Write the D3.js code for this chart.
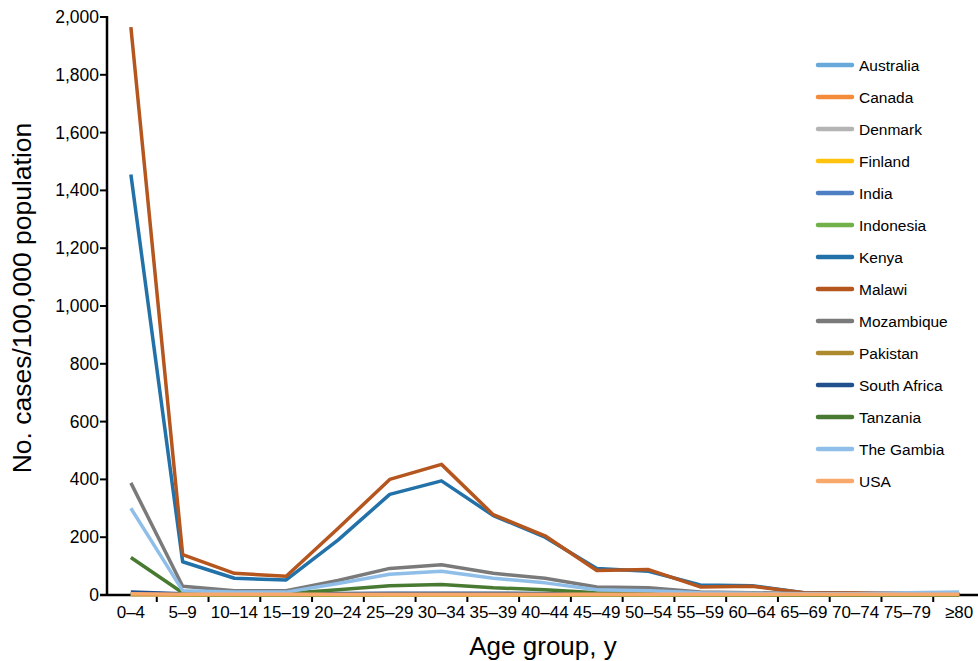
<!DOCTYPE html>
<html><head><meta charset="utf-8">
<script src="https://cdn.jsdelivr.net/npm/d3@7"></script>
<style>body{margin:0;background:#fff}svg{display:block;font-family:"Liberation Sans",Arial,sans-serif}</style>
</head><body><svg id="c" width="978" height="661"></svg>
<script>
const ageGroups=["0–4","5–9","10–14","15–19","20–24","25–29","30–34","35–39","40–44","45–49","50–54","55–59","60–64","65–69","70–74","75–79","≥80"];
const countries=["Australia","Canada","Denmark","Finland","India","Indonesia","Kenya","Malawi","Mozambique","Pakistan","South Africa","Tanzania","The Gambia","USA"];
const colors=["#68a9dc","#f48b3a","#b4b4b4","#ffc20e","#4e7fc4","#72b04a","#2271a8","#b5561f","#7a7a7a","#ad8a2e","#22508e","#487a31","#8fbfe8","#f9a86c"];
const australia=[2,1,1,1,1,1,1,1,1,1,1,1,1,1,1,1,1];
const canada=[2,1,1,1,1,1,1,1,1,1,1,1,1,1,1,1,1];
const denmark=[3,1,1,1,1,1,1,1,1,1,1,1,1,1,1,1,2];
const finland=[2,1,1,1,1,1,1,1,1,1,1,1,1,1,1,1,1];
const india=[8,3,2,2,3,4,4,4,3,3,3,2,2,2,2,2,2];
const indonesia=[5,2,1,1,2,3,3,3,2,2,2,1,1,1,1,1,1];
const kenya=[1455,115,58,52,190,348,395,275,200,92,82,35,32,8,6,6,5];
const malawi=[1965,140,75,65,230,400,452,278,205,85,88,28,30,8,7,5,4];
const mozambique=[388,30,15,15,50,92,105,75,58,28,25,10,8,5,4,4,4];
const pakistan=[4,1,1,1,1,2,2,2,1,1,1,1,1,1,1,1,1];
const southAfrica=[10,4,3,3,5,6,6,6,5,4,4,3,3,3,3,3,3];
const tanzania=[130,8,5,5,18,32,36,25,18,8,6,3,3,2,2,2,2];
const gambia=[300,15,10,10,40,72,82,58,42,18,15,8,6,4,4,8,10];
const usa=[4,3,3,3,3,3,3,3,3,3,3,3,3,3,3,3,3];
const series=[australia,canada,denmark,finland,india,indonesia,kenya,malawi,mozambique,pakistan,southAfrica,tanzania,gambia,usa];
const yTicks=[0,200,400,600,800,1000,1200,1400,1600,1800,2000];

const svg=d3.select("#c");
const x=d3.scaleBand().domain(ageGroups).range([105,985]);
const y=d3.scaleLinear().domain([0,2000]).range([595,17]);

// x axis
const xAxis=svg.append("g").attr("transform","translate(0,595)");
xAxis.append("line").attr("x1",100).attr("x2",978).attr("stroke","#000").attr("stroke-width",2.5);
const bounds=ageGroups.map(a=>x(a));
xAxis.selectAll(".xt").data(bounds.slice(1)).enter().append("line")
  .attr("x1",d=>d).attr("x2",d=>d).attr("y1",0).attr("y2",7).attr("stroke","#000").attr("stroke-width",2);
xAxis.selectAll(".xl").data(ageGroups).enter().append("text")
  .attr("x",d=>x(d)+x.bandwidth()/2).attr("y",23).attr("text-anchor","middle")
  .attr("font-size",17).text(d=>d);

// y axis
const yAxis=svg.append("g");
yAxis.append("line").attr("x1",107).attr("x2",107).attr("y1",y(2000)-1).attr("y2",596).attr("stroke","#000").attr("stroke-width",2.5);
yAxis.selectAll(".yt").data(yTicks).enter().append("line")
  .attr("x1",100).attr("x2",107).attr("y1",d=>y(d)).attr("y2",d=>y(d)).attr("stroke","#000").attr("stroke-width",2);
yAxis.selectAll(".yl").data(yTicks).enter().append("text")
  .attr("x",99).attr("y",d=>y(d)+6).attr("text-anchor","end").attr("font-size",17.5)
  .text(d=>d3.format(",")(d));

// lines
const line=d3.line().x((d,i)=>x(ageGroups[i])+x.bandwidth()/2).y(d=>y(d));
series.forEach((s,k)=>{
  svg.append("path").datum(s).attr("d",line).attr("fill","none")
    .attr("stroke",colors[k]).attr("stroke-width",3.5).attr("stroke-linejoin","round");
});

// titles
svg.append("text").attr("transform","translate(31,298) rotate(-90)").attr("text-anchor","middle")
  .attr("font-size",26.5).text("No. cases/100,000 population");
svg.append("text").attr("x",543).attr("y",655).attr("text-anchor","middle")
  .attr("font-size",26).text("Age group, y");

// legend
const lg=svg.append("g");
countries.forEach((c,k)=>{
  const yy=65+k*32;
  lg.append("line").attr("x1",818).attr("x2",852).attr("y1",yy).attr("y2",yy)
    .attr("stroke",colors[k]).attr("stroke-width",4.5).attr("stroke-linecap","round");
  lg.append("text").attr("x",859).attr("y",yy+5.5).attr("font-size",15.5).text(c);
});
</script></body></html>
